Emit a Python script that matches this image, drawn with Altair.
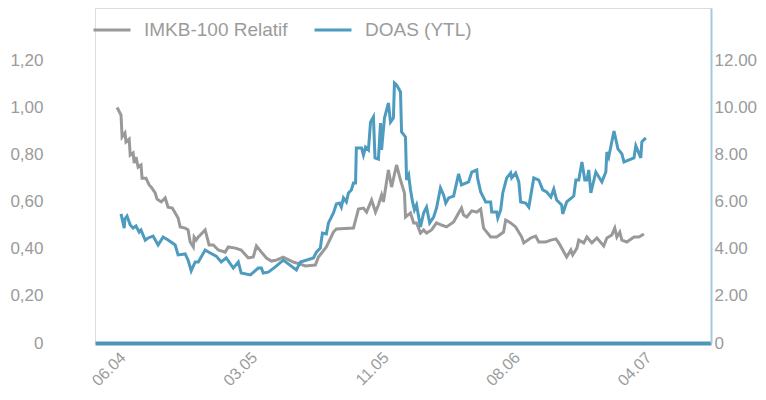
import altair as alt
import pandas as pd

# ---- data ----
x_tick_days = [0, 50, 100, 150, 200]
x_tick_labels = ["06.04", "03.05", "11.05", "08.06", "04.07"]

imkb_day = [0, 1.5, 1.9, 3.0, 3.4, 4.6, 5.0, 6.1, 6.5, 7.2,
            8.0, 9.1, 9.5, 11.0, 12.2, 13.0, 14.5, 15.2, 16.8, 18.3,
            19.4, 21.0, 22.1, 23.2, 24.0, 25.9, 27.0, 27.8, 29.0, 29.3,
            30.1, 30.9, 33.5, 35.0, 36.6, 38.5, 41.1, 42.3, 45.0, 47.2,
            49.9, 51.8, 53.0, 54.9, 56.8, 58.7, 60.6, 63.2, 67.0, 69.7,
            71.6, 75.4, 76.6, 79.6, 82.3, 83.4, 89.9, 91.8, 93.7, 94.9,
            96.8, 98.3, 99.4, 100.6, 101.3, 103.2, 104.4, 106.3, 107.8, 109.3,
            109.7, 111.6, 112.8, 113.9, 115.4, 116.6, 117.7, 119.6, 121.5, 123.4,
            125.3, 128.0, 129.9, 131.0, 131.8, 133.0, 134.9, 136.8, 138.3, 139.4,
            142.1, 144.4, 147.0, 147.8, 149.7, 151.6, 153.9, 154.7, 157.3, 159.2,
            160.4, 163.0, 165.0, 166.9, 168.0, 169.1, 171.0, 172.6, 173.3, 174.9,
            175.6, 177.5, 178.7, 180.6, 182.5, 185.1, 186.3, 188.2, 189.3, 190.1,
            191.2, 192.0, 193.9, 196.6, 198.5, 200.4]
imkb_val = [1.00, 0.968, 0.875, 0.892, 0.854, 0.866, 0.798, 0.807, 0.764, 0.79,
            0.747, 0.756, 0.70, 0.70, 0.671, 0.662, 0.637, 0.611, 0.599, 0.616,
            0.577, 0.573, 0.552, 0.531, 0.493, 0.488, 0.480, 0.429, 0.408, 0.45,
            0.437, 0.45, 0.48, 0.416, 0.416, 0.395, 0.386, 0.408, 0.403, 0.395,
            0.361, 0.365, 0.412, 0.386, 0.361, 0.348, 0.352, 0.365, 0.344, 0.335,
            0.327, 0.331, 0.365, 0.408, 0.471, 0.484, 0.488, 0.569, 0.573, 0.556,
            0.607, 0.556, 0.586, 0.628, 0.599, 0.735, 0.662, 0.756, 0.692, 0.637,
            0.535, 0.552, 0.51, 0.51, 0.467, 0.48, 0.467, 0.48, 0.51, 0.501,
            0.493, 0.514, 0.552, 0.573, 0.543, 0.535, 0.561, 0.556, 0.569, 0.488,
            0.45, 0.45, 0.471, 0.522, 0.51, 0.493, 0.45, 0.425, 0.446, 0.454,
            0.429, 0.429, 0.437, 0.442, 0.425, 0.403, 0.365, 0.395, 0.374, 0.403,
            0.437, 0.425, 0.45, 0.425, 0.446, 0.412, 0.446, 0.459, 0.488, 0.45,
            0.471, 0.437, 0.429, 0.45, 0.45, 0.463]

doas_day = [1.5, 2.7, 3.0, 3.8, 5.0, 6.1, 7.2, 8.4, 9.1, 10.7,
            11.8, 13.7, 15.6, 17.5, 19.4, 22.1, 23.2, 25.9, 27.0, 28.2,
            29.7, 30.9, 33.5, 35.4, 37.7, 39.6, 41.5, 44.2, 46.1, 47.2,
            50.7, 53.7, 54.9, 55.6, 57.5, 60.2, 63.2, 68.2, 69.7, 74.7,
            75.8, 77.3, 78.1, 79.6, 80.4, 82.3, 83.4, 84.6, 85.3, 86.1,
            87.2, 88.0, 89.1, 89.9, 90.7, 91.0, 93.0, 93.7, 94.5, 95.6,
            96.4, 97.5, 98.1, 99.4, 100.2, 100.6, 101.7, 103.2, 104.0, 105.1,
            105.5, 106.3, 107.8, 108.2, 109.7, 110.1, 110.9, 111.6, 112.4, 113.1,
            113.9, 115.4, 116.6, 117.7, 118.9, 120.4, 121.5, 123.0, 124.2, 125.0,
            126.1, 128.0, 129.9, 131.0, 133.7, 134.9, 136.8, 137.1, 138.3, 140.2,
            142.1, 142.5, 144.4, 144.8, 145.9, 146.7, 148.2, 149.7, 150.1, 151.6,
            152.8, 153.5, 155.4, 156.6, 158.5, 160.4, 161.9, 163.4, 165.0, 166.1,
            167.2, 169.1, 169.5, 171.0, 173.7, 174.5, 175.6, 176.8, 177.9, 178.7,
            179.4, 180.2, 182.1, 184.4, 185.9, 186.3, 187.0, 189.0, 190.5, 192.0,
            192.8, 196.6, 197.3, 199.2, 199.6, 201.1]
doas_val = [5.48, 4.88, 5.27, 5.39, 5.01, 4.88, 4.97, 4.71, 4.80, 4.37,
            4.46, 4.54, 4.16, 4.50, 4.37, 4.16, 3.74, 3.78, 3.52, 3.06,
            3.44, 3.44, 3.95, 3.82, 3.69, 3.44, 3.61, 3.18, 3.44, 2.97,
            2.89, 3.18, 3.18, 2.97, 3.01, 3.23, 3.52, 3.10, 3.44, 3.61,
            3.86, 4.03, 4.67, 4.63, 5.10, 5.52, 5.90, 5.94, 5.77, 6.16,
            5.99, 6.37, 6.50, 6.79, 6.79, 8.28, 8.28, 7.98, 8.32, 8.20,
            9.38, 9.60, 7.86, 7.81, 9.34, 8.20, 9.55, 10.19, 9.38, 9.55,
            11.04, 10.96, 10.66, 8.96, 8.75, 6.92, 7.13, 6.50, 5.99, 5.65,
            5.86, 4.93, 5.52, 5.77, 5.10, 5.35, 5.73, 6.58, 6.28, 5.94,
            6.16, 6.24, 7.18, 6.71, 6.84, 7.26, 7.35, 7.01, 6.41, 5.99,
            5.99, 5.56, 5.56, 5.31, 5.65, 6.37, 7.01, 7.22, 7.01, 7.22,
            6.84, 5.99, 5.94, 5.77, 7.01, 6.92, 6.50, 6.41, 6.20, 6.54,
            6.07, 5.86, 5.48, 5.99, 6.24, 6.92, 6.92, 7.69, 6.92, 6.92,
            7.35, 6.37, 7.26, 6.84, 7.26, 8.11, 7.90, 9.00, 8.24, 8.03,
            7.69, 7.86, 8.37, 7.86, 8.54, 8.71]

series_names = ["IMKB-100 Relatif", "DOAS (YTL)"]
series_colors = ["#999999", "#4e9bc0"]
left_ticks = [0, 0.2, 0.4, 0.6, 0.8, 1.0, 1.2]
right_ticks = [0, 2, 4, 6, 8, 10, 12]

imkb_df = pd.DataFrame({"day": imkb_day, "value": imkb_val, "series": series_names[0]})
doas_df = pd.DataFrame({"day": doas_day, "value": doas_val, "series": series_names[1]})

label_gray = "#9b9b9b"
font = "Liberation Sans"

label_expr = " : ".join(
    [f"datum.value == {d} ? '{l}'" for d, l in zip(x_tick_days, x_tick_labels)]
) + " : ''"

x_enc = alt.X(
    "day:Q",
    scale=alt.Scale(domain=[-8.4, 225.9], nice=False, zero=False),
    axis=alt.Axis(
        values=x_tick_days, labelExpr=label_expr, labelAngle=-45,
        labelAlign="right", labelBaseline="top", labelPadding=6,
        labelFontSize=16, labelColor=label_gray, labelFont=font,
        ticks=False, grid=False, domainColor="#4a95b8", domainWidth=4,
        title=None,
    ),
)

color_enc = alt.Color(
    "series:N",
    scale=alt.Scale(domain=series_names, range=series_colors),
    legend=alt.Legend(
        orient="none", legendX=-3, legendY=2, direction="horizontal",
        title=None, symbolType="stroke", symbolSize=1369, symbolStrokeWidth=3,
        labelFontSize=19, labelColor=label_gray, labelFont=font,
        labelOffset=12, columnPadding=20, padding=0,
    ),
)

left = alt.Chart(imkb_df).mark_line(strokeWidth=3).encode(
    x=x_enc,
    y=alt.Y(
        "value:Q",
        scale=alt.Scale(domain=[0, 1.4225], nice=False),
        axis=alt.Axis(
            orient="left", values=left_ticks,
            labelExpr="datum.value == 0 ? '0' : replace(format(datum.value, '.2f'), '.', ',')",
            labelFontSize=17, labelColor=label_gray, labelFont=font,
            labelPadding=52, ticks=False, domain=False, grid=False, title=None,
        ),
    ),
    color=color_enc,
)

right = alt.Chart(doas_df).mark_line(strokeWidth=3).encode(
    x=x_enc,
    y=alt.Y(
        "value:Q",
        scale=alt.Scale(domain=[0, 14.225], nice=False),
        axis=alt.Axis(
            orient="right", values=right_ticks,
            labelExpr="datum.value == 0 ? '0' : format(datum.value, '.2f')",
            labelFontSize=17, labelColor=label_gray, labelFont=font,
            labelPadding=3, ticks=False, domain=True, domainColor="#a3cbe0",
            domainWidth=2, grid=False, title=None,
        ),
    ),
    color=color_enc,
)

chart = (
    alt.layer(left, right)
    .resolve_scale(y="independent")
    .properties(
        width=616, height=335,
        autosize=alt.AutoSizeParams(type="none"),
        padding={"left": 87, "top": 0, "right": 47, "bottom": 50},
    )
    .configure_view(stroke=None)
    .configure(font=font)
)

chart.save("out.html", embed_options={"renderer": "svg", "actions": False})
